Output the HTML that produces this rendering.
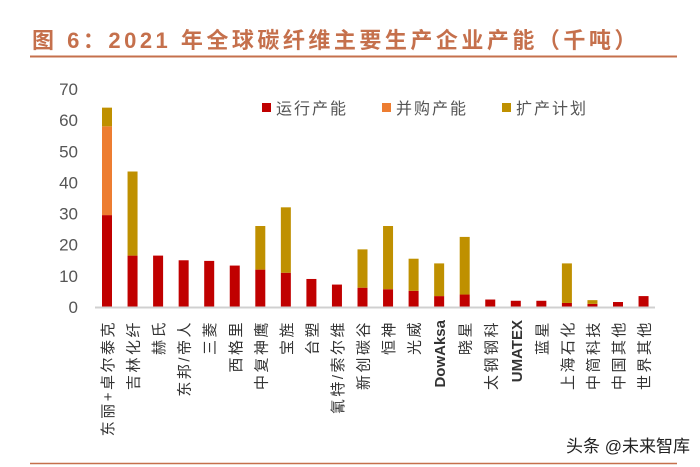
<!DOCTYPE html>
<html><head><meta charset="utf-8"><style>
body{margin:0;background:#fff;}
svg{display:block;font-family:"Liberation Sans","Noto Sans CJK SC",sans-serif;}
</style></head><body>
<svg id="c" width="700" height="467" viewBox="0 0 700 467">
<text x="32" y="48" font-size="22" font-weight="bold" fill="#c5704c" letter-spacing="3.5">图 6：2021 年全球碳纤维主要生产企业产能（千吨）</text>
<line x1="30" y1="56.5" x2="677" y2="56.5" stroke="#c5704c" stroke-width="2"/>
<line x1="30" y1="463.5" x2="677" y2="463.5" stroke="#c5704c" stroke-width="1.5"/>
<g id="yaxis"></g>
<g id="bars"></g>
<line x1="95" y1="307.5" x2="655" y2="307.5" stroke="#d0d0d0" stroke-width="2"/>
<g id="xlabels"></g>
<g>
<g><rect x="262" y="103" width="9" height="9" fill="#c00000"/><text x="276" y="114" font-size="16" fill="#555" letter-spacing="2">运行产能</text></g>
<g><rect x="382" y="103" width="9" height="9" fill="#ed7d31"/><text x="396" y="114" font-size="16" fill="#555" letter-spacing="2">并购产能</text></g>
<g><rect x="502" y="103" width="9" height="9" fill="#bf9000"/><text x="516" y="114" font-size="16" fill="#555" letter-spacing="2">扩产计划</text></g>
</g>
<text x="566" y="452" font-size="17" fill="#222">头条 @未来智库</text>
</svg>
<script>
const names=["东丽+卓尔泰克","吉林化纤","赫氏","东邦/帝人","三菱","西格里","中复神鹰","宝旌","台塑","氰特/索尔维","新创碳谷","恒神","光威","DowAksa","晓星","太钢钢科","UMATEX","蓝星","上海石化","中简科技","中国其他","世界其他"];
const running=[29.5,16.5,16.5,15,14.8,13.3,12,11,9,7.2,6.2,5.7,5.2,3.5,4,2.4,2,2,1.3,1,1.6,3.5];
const acquired=[28.5,0,0,0,0,0,0,0,0,0,0,0,0,0,0,0,0,0,0,0,0,0];
const expansion=[6,27,0,0,0,0,14,21,0,0,12.3,20.3,10.3,10.5,18.5,0,0,0,12.7,1.2,0,0];
const yTicks=[0,10,20,30,40,50,60,70];
const NS="http://www.w3.org/2000/svg";
const y0=307,pxPer=3.115,x0=107,step=25.55,bw=10;
function yS(v){return y0-v*pxPer;}
function xS(i){return x0+i*step;}
const ya=document.getElementById('yaxis');
yTicks.forEach(t=>{const e=document.createElementNS(NS,'text');


e.setAttribute('x',78);e.setAttribute('y',yS(t)+6);e.setAttribute('text-anchor','end');
e.setAttribute('font-size','17');e.setAttribute('fill','#555');e.textContent=t;ya.appendChild(e);});
const bg=document.getElementById('bars');
function seg(i,a,b,col,nm){if(b<=0)return;const r=document.createElementNS(NS,'rect');


r.setAttribute('x',xS(i)-bw/2);r.setAttribute('width',bw);
r.setAttribute('y',yS(a+b));r.setAttribute('height',b*pxPer);r.setAttribute('fill',col);bg.appendChild(r);}
names.forEach((n,i)=>{seg(i,0,running[i],'#c00000','bar-running');
seg(i,running[i],acquired[i],'#ed7d31','bar-acquired');
seg(i,running[i]+acquired[i],expansion[i],'#bf9000','bar-expansion');});
const xl=document.getElementById('xlabels');
names.forEach((n,i)=>{const e=document.createElementNS(NS,'text');


const x=xS(i)+6,y=320;
e.setAttribute('transform','translate('+x+','+y+') rotate(-90)');
e.setAttribute('text-anchor','end');e.setAttribute('font-size','15');
e.setAttribute('fill','#333');e.setAttribute('letter-spacing','2.5');
if(/^[A-Za-z]/.test(n)){e.setAttribute('font-weight','bold');e.setAttribute('letter-spacing','0');}
e.textContent=n;xl.appendChild(e);});
</script>
</body></html>
